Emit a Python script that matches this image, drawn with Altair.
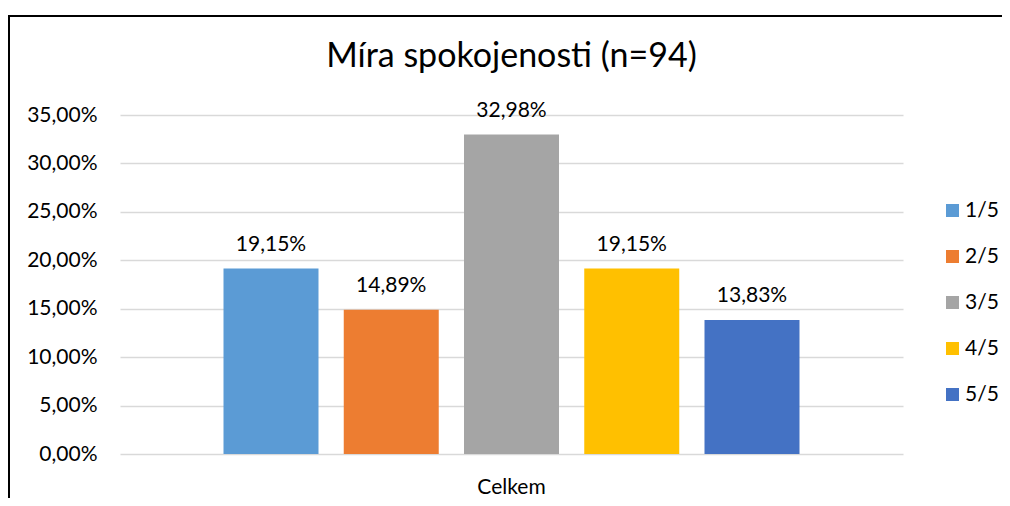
import altair as alt
import pandas as pd

series = ["1/5", "2/5", "3/5", "4/5", "5/5"]
values = [19.15, 14.89, 32.98, 19.15, 13.83]
group = "Celkem"
colors = ["#5B9BD5", "#ED7D31", "#A5A5A5", "#FFC000", "#4472C4"]
y_ticks = [0, 5, 10, 15, 20, 25, 30, 35]

df = pd.DataFrame({
    "group": [group] * len(series),
    "series": series,
    "value": values,
    "label": [f"{v:.2f}".replace(".", ",") + "%" for v in values],
})

FONT = "Lato"
FS = 21
W, H = 783, 339

x_enc = alt.X("group:N", title=None,
              scale=alt.Scale(paddingInner=0, paddingOuter=0),
              axis=alt.Axis(labelFontSize=FS, labelFont=FONT, labelColor="#000000",
                            labelAngle=0, ticks=False, domain=False, labelPadding=22))
xo_enc = alt.XOffset("series:N", sort=series,
                     scale=alt.Scale(paddingInner=0.21, paddingOuter=0.8607))
y_enc = alt.Y("value:Q", title=None,
              scale=alt.Scale(domain=[0, 35], nice=False, zero=True),
              axis=alt.Axis(values=y_ticks, labelExpr="replace(format(datum.value, '.2f'), '.', ',') + '%'",
                            labelFontSize=FS, labelFont=FONT, labelColor="#000000",
                            ticks=False, domain=False, labelPadding=23,
                            grid=True, gridColor="#D9D9D9", gridWidth=1.3))

bars = alt.Chart(df).mark_bar().encode(
    x=x_enc,
    xOffset=xo_enc,
    y=y_enc,
    color=alt.Color("series:N", sort=series,
                    scale=alt.Scale(domain=series, range=colors),
                    legend=alt.Legend(title=None, orient="none", legendX=822, legendY=85,
                                      symbolType="square", symbolSize=169, symbolStrokeWidth=0,
                                      labelFontSize=FS, labelFont=FONT, labelColor="#000000",
                                      rowPadding=24, labelOffset=2, padding=0)),
)

text = alt.Chart(df).mark_text(font=FONT, fontSize=FS, color="#000000",
                               baseline="alphabetic", dy=-18).encode(
    x=x_enc,
    xOffset=xo_enc,
    y=y_enc,
    text="label:N",
)

one = pd.DataFrame({"k": [0]})
left_border = alt.Chart(one).mark_rule(color="#000000", strokeWidth=2).encode(
    x=alt.value(-111), y=alt.value(-100), y2=alt.value(H + 60))
top_border = alt.Chart(one).mark_rule(color="#000000", strokeWidth=2).encode(
    x=alt.value(-112), x2=alt.value(W + 120), y=alt.value(-99))

chart = alt.layer(bars, text, left_border, top_border).properties(
    width=W, height=H,
    background="#FFFFFF",
    title=alt.TitleParams("Míra spokojenosti (n=94)", font=FONT, fontSize=34,
                          fontWeight="normal", color="#000000", anchor="middle",
                          baseline="alphabetic", offset=-87, frame="group"),
    padding={"left": 112, "top": 107, "right": 99, "bottom": 44},
    autosize=alt.AutoSizeParams(type="none"),
).configure_view(strokeWidth=0)

chart.save("out.html", embed_options={"renderer": "svg", "actions": False})
